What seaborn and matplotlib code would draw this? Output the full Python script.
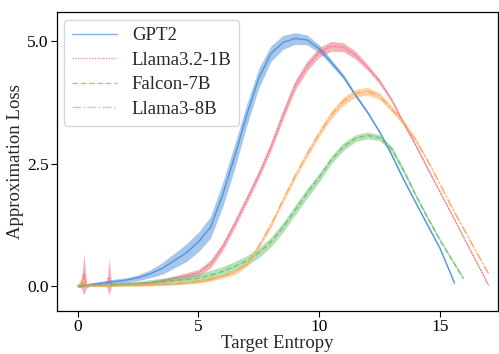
import numpy as np
import pandas as pd
import seaborn as sns
import matplotlib
matplotlib.use("Agg")
import matplotlib.pyplot as plt

# ---- data ----
models = ["GPT2", "Llama3.2-1B", "Falcon-7B", "Llama3-8B"]

gpt2_x = [0, 0.5, 1, 1.5, 2, 2.5, 3, 3.5, 4, 4.5, 5, 5.5, 6, 6.5, 7, 7.5, 8, 8.5, 9, 9.5,
          10, 10.5, 11, 11.5, 12, 12.5, 13, 13.5, 14, 14.5, 15, 15.6]
gpt2_y = [0.0, 0.03, 0.06, 0.09, 0.12, 0.17, 0.25, 0.36, 0.52, 0.68, 0.9, 1.2, 1.86, 2.65, 3.5, 4.25,
          4.75, 4.98, 5.06, 5.03, 4.85, 4.57, 4.28, 3.9, 3.55, 3.15, 2.68, 2.17, 1.7, 1.23, 0.77, 0.06]
gpt2_hw = [0.02, 0.03, 0.04, 0.05, 0.05, 0.06, 0.08, 0.12, 0.15, 0.18, 0.2, 0.22, 0.25, 0.25, 0.22, 0.2,
           0.16, 0.14, 0.12, 0.1, 0.08, 0.06, 0.05, 0.04, 0.03, 0.03, 0.03, 0.03, 0.02, 0.02, 0.02, 0.02]

llama1b_x = [0, 0.15, 0.26, 0.37, 0.5, 1, 1.2, 1.3, 1.4, 1.5, 2, 2.5, 3, 3.5, 4, 4.5, 5, 5.5, 6, 6.5, 7,
             7.5, 8, 8.5, 9, 9.5, 10, 10.5, 11, 11.5, 12, 12.5, 13, 13.5, 14, 14.5, 15, 15.5,
             16, 16.5, 17]
llama1b_y = [0.0, 0.01, 0.24, 0.01, 0.02, 0.02, 0.02, 0.18, 0.03, 0.03, 0.04, 0.05, 0.07, 0.11, 0.16,
             0.21, 0.27, 0.45, 0.8, 1.27, 1.77, 2.28, 2.85, 3.5, 4.1, 4.5, 4.78, 4.9, 4.88, 4.72,
             4.47, 4.18, 3.8, 3.32, 2.87, 2.39, 1.92, 1.45, 0.97, 0.5, 0.02]
llama1b_hw = [0.02, 0.05, 0.42, 0.05, 0.02, 0.02, 0.04, 0.37, 0.04, 0.02, 0.02, 0.03, 0.03, 0.04,
              0.05, 0.06, 0.07, 0.08, 0.08, 0.08, 0.08, 0.08, 0.09, 0.1, 0.1, 0.1, 0.1, 0.1, 0.09,
              0.08, 0.06, 0.05, 0.04, 0.04, 0.03, 0.03, 0.02, 0.02, 0.02, 0.02, 0.02]

falcon_x = [0, 0.5, 1, 1.5, 2, 2.5, 3, 3.5, 4, 4.5, 5, 5.5, 6, 6.5, 7, 7.5, 8, 8.5, 9, 9.5, 10,
            10.5, 11, 11.5, 12, 12.5, 13, 13.5, 14, 14.5, 15, 15.5, 15.96]
falcon_y = [0.0, 0.01, 0.02, 0.03, 0.04, 0.05, 0.07, 0.09, 0.11, 0.13, 0.16, 0.22, 0.3, 0.4, 0.52,
            0.68, 0.9, 1.2, 1.55, 1.9, 2.22, 2.58, 2.85, 3.02, 3.08, 3.03, 2.8, 2.35, 1.85, 1.38,
            0.94, 0.53, 0.16]
falcon_hw = [0.02, 0.02, 0.03, 0.03, 0.04, 0.05, 0.06, 0.07, 0.08, 0.08, 0.09, 0.1, 0.1, 0.1, 0.1,
             0.1, 0.1, 0.1, 0.1, 0.1, 0.09, 0.08, 0.08, 0.07, 0.07, 0.06, 0.06, 0.05, 0.04, 0.04,
             0.03, 0.03, 0.03]

llama8b_x = [0, 0.12, 0.22, 0.32, 0.5, 1, 1.5, 2, 2.5, 3, 3.5, 4, 4.5, 5, 5.5, 6, 6.5, 7, 7.5, 8,
             8.5, 9, 9.5, 10, 10.5, 11, 11.5, 12, 12.5, 13, 13.5, 14, 14.5, 15, 15.5, 16, 16.5, 17]
llama8b_y = [0.0, 0.05, 0.14, 0.02, 0.01, 0.01, 0.01, 0.02, 0.02, 0.03, 0.04, 0.05, 0.07, 0.1, 0.14,
             0.2, 0.28, 0.45, 0.82, 1.25, 1.76, 2.25, 2.7, 3.12, 3.5, 3.78, 3.94, 3.98, 3.88, 3.62,
             3.33, 2.98, 2.55, 2.08, 1.6, 1.15, 0.7, 0.26]
llama8b_hw = [0.02, 0.08, 0.18, 0.04, 0.02, 0.02, 0.02, 0.02, 0.02, 0.03, 0.03, 0.03, 0.03, 0.04,
              0.04, 0.04, 0.05, 0.05, 0.05, 0.06, 0.06, 0.06, 0.07, 0.07, 0.08, 0.08, 0.08, 0.08,
              0.07, 0.06, 0.05, 0.04, 0.03, 0.02, 0.02, 0.02, 0.02, 0.02]

colors = {"GPT2": "#4a90d9", "Llama3.2-1B": "#ef6678", "Falcon-7B": "#6cc26c", "Llama3-8B": "#ffa552"}
dashes = {"GPT2": "", "Llama3.2-1B": (1, 1), "Falcon-7B": (4, 2), "Llama3-8B": (6, 2, 1, 2)}

# long-form table: lower / mean / upper sample per x, band = full interval
series = {
    "GPT2": (gpt2_x, gpt2_y, gpt2_hw),
    "Llama3.2-1B": (llama1b_x, llama1b_y, llama1b_hw),
    "Falcon-7B": (falcon_x, falcon_y, falcon_hw),
    "Llama3-8B": (llama8b_x, llama8b_y, llama8b_hw),
}
rows = []
for m in models:
    xs, ys, hs = series[m]
    for x, y, h in zip(xs, ys, hs):
        for v in (y - h, y, y + h):
            rows.append({"Target Entropy": x, "Approximation Loss": v, "model": m})
df = pd.DataFrame(rows)

sns.set_style("ticks")
plt.rcParams["font.family"] = ["Liberation Serif", "DejaVu Serif"]

fig = plt.figure(figsize=(4.99, 3.54), dpi=100)
ax = fig.add_axes([0.114, 0.1215, 0.884, 0.8445])

sns.lineplot(data=df, x="Target Entropy", y="Approximation Loss", hue="model", style="model",
             hue_order=models, style_order=models, palette=colors, dashes=dashes,
             estimator="mean", errorbar=("pi", 100), err_kws={"alpha": 0.5, "linewidth": 0},
             linewidth=1.0, alpha=0.9, ax=ax)

ax.set_xlim(-0.86, 17.4)
ax.set_ylim(-0.51, 5.6)
ax.set_xticks([0, 5, 10, 15])
ax.set_yticks([0.0, 2.5, 5.0])
ax.set_yticklabels(["0.0", "2.5", "5.0"])
ax.tick_params(labelsize=12.5, length=4, width=0.8, colors="black", pad=2)
ax.set_xlabel("Target Entropy", fontsize=13.5, labelpad=0)
ax.set_ylabel("Approximation Loss", fontsize=13.5, labelpad=2)
for s in ax.spines.values():
    s.set_color("black")
    s.set_linewidth(0.9)

leg = ax.legend(loc="upper left", fontsize=13.5, frameon=True, handlelength=2.4,
                borderaxespad=0.4, labelspacing=0.4, handletextpad=0.8)
leg.get_frame().set_edgecolor("#cccccc")
for line in leg.get_lines():
    line.set_linewidth(1.0)
    line.set_alpha(0.7)

fig.savefig("out.png", dpi=100)
